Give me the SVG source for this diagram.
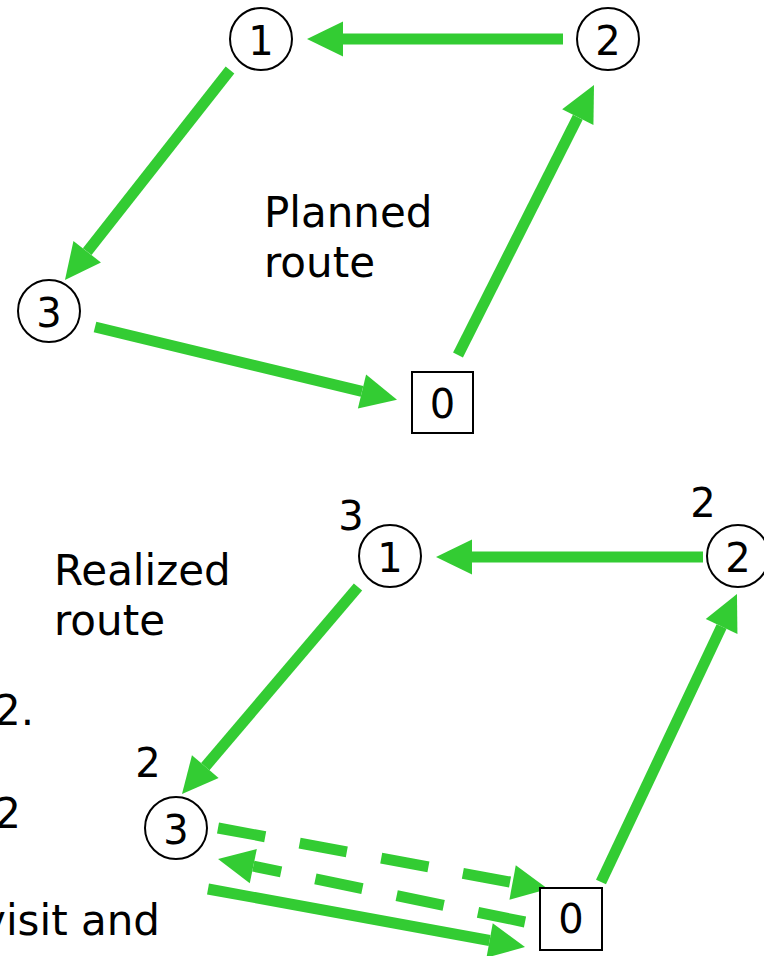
<svg xmlns="http://www.w3.org/2000/svg" width="764" height="956" viewBox="0 0 764 956">
  <style>
    .txt { font-family: "DejaVu Sans", Verdana, sans-serif; font-size: 40px; fill: #000; }
    .big { font-size: 42px; }
    .mid { text-anchor: middle; }
    .end { text-anchor: end; }
    .node { fill: #fff; stroke: #000; stroke-width: 2; }
    .edge { fill: none; stroke: #33cc33; stroke-width: 11; marker-end: url(#head); }
    .dash { stroke-dasharray: 48 35; }
  </style>
  <defs>
    <marker id="head" markerUnits="userSpaceOnUse" viewBox="0 -20 40 40" refX="0" refY="0" markerWidth="40" markerHeight="40" orient="auto" overflow="visible">
      <path d="M0,-17.5 L36,0 L0,17.5 Z" fill="#33cc33"/>
    </marker>
  </defs>

  <rect width="764" height="956" fill="#fff"/>

  <!-- connectors -->
  <g id="connectors">
    <!-- planned tour -->
    <line class="edge" x1="563" y1="39" x2="343" y2="39"/>
    <line class="edge" x1="230" y1="70" x2="87.2" y2="251.7"/>
    <line class="edge" x1="95" y1="327" x2="362" y2="391.4"/>
    <line class="edge" x1="458" y1="355" x2="577.8" y2="117.2"/>
    <!-- realized tour -->
    <line class="edge" x1="703" y1="557" x2="472" y2="557"/>
    <line class="edge" x1="358" y1="587" x2="205.3" y2="766.6"/>
    <line class="edge" x1="601" y1="882" x2="721.6" y2="626.5"/>
    <line class="edge dash" x1="218" y1="828" x2="512.6" y2="882.5"/>
    <line class="edge dash" x1="525" y1="922" x2="253.3" y2="866.2"/>
    <line class="edge" x1="208" y1="889" x2="489.6" y2="940.5"/>
  </g>

  <!-- planned route nodes -->
  <g id="p1">
    <circle class="node" cx="261" cy="39" r="31"/>
    <text class="txt mid" x="261" y="55">1</text>
  </g>
  <g id="p2">
    <circle class="node" cx="608" cy="39" r="31"/>
    <text class="txt mid" x="608" y="55">2</text>
  </g>
  <g id="p3">
    <circle class="node" cx="49" cy="311" r="31"/>
    <text class="txt mid" x="49" y="327">3</text>
  </g>
  <g id="p0">
    <rect class="node" x="412" y="372" width="61" height="61"/>
    <text class="txt mid" x="442.5" y="418">0</text>
  </g>
  <text class="txt big" x="264" y="227">Planned</text>
  <text class="txt big" x="264" y="277">route</text>

  <!-- realized route nodes -->
  <g id="r1">
    <circle class="node" cx="390" cy="556" r="31"/>
    <text class="txt mid" x="390" y="572">1</text>
    <text class="txt mid" x="351" y="530">3</text>
  </g>
  <g id="r2">
    <circle class="node" cx="738" cy="556" r="31"/>
    <text class="txt mid" x="738" y="572">2</text>
    <text class="txt mid" x="703" y="517">2</text>
  </g>
  <g id="r3">
    <circle class="node" cx="176" cy="828" r="31"/>
    <text class="txt mid" x="176" y="844">3</text>
    <text class="txt mid" x="148" y="777">2</text>
  </g>
  <g id="r0">
    <rect class="node" x="540" y="888" width="62" height="62"/>
    <text class="txt mid" x="571" y="933">0</text>
  </g>
  <text class="txt big" x="54" y="585">Realized</text>
  <text class="txt big" x="54" y="635">route</text>

  <!-- side text running off the left edge -->
  <text class="txt big end" x="34" y="725">2.</text>
  <text class="txt big end" x="21" y="828">2</text>
  <text class="txt big end" x="160" y="935">visit and</text>
</svg>
